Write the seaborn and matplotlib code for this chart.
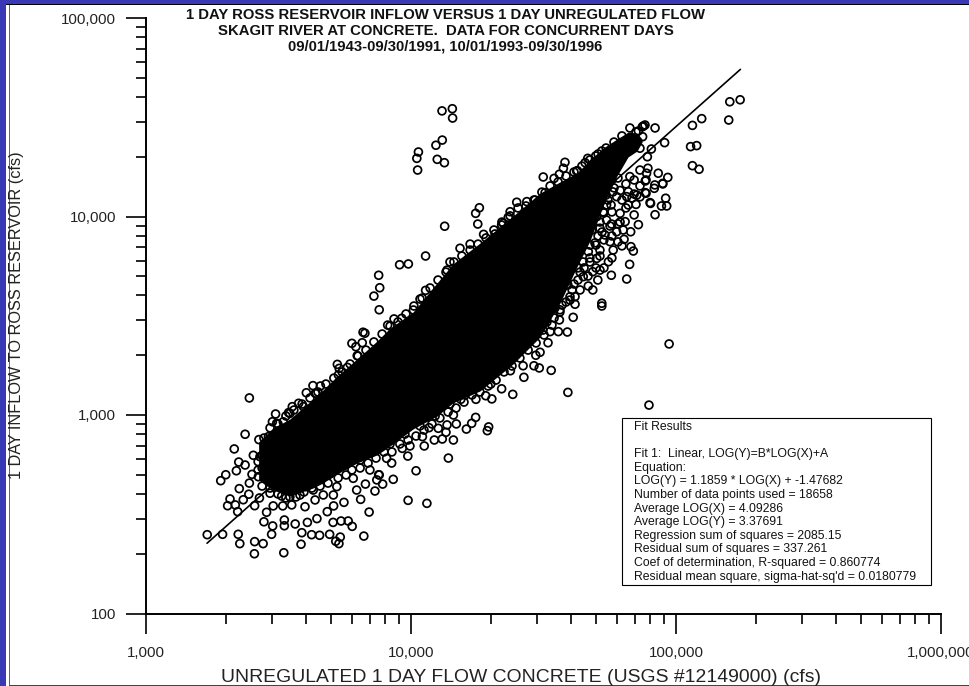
import matplotlib
matplotlib.use("Agg")
import matplotlib.pyplot as plt
import numpy as np
import pandas as pd
import seaborn as sns
from matplotlib.patches import Rectangle
from matplotlib.ticker import LogLocator, NullFormatter

# values, as log10(cfs)
TAIL_X = [3.231, 3.289, 3.348, 3.354, 3.410, 3.442, 3.409, 3.520, 3.585, 3.474, 3.588, 3.625, 3.655, 3.693, 3.733, 3.716,
          3.728, 3.822, 3.842, 3.778, 3.763, 3.736, 3.706, 3.645, 3.684, 3.708, 3.747, 3.864, 3.893, 3.810, 3.828, 3.878,
          3.609, 3.522, 3.522, 3.478, 3.445, 3.455, 3.480, 3.516, 3.563, 3.550, 3.600, 3.638, 3.410, 3.346, 3.308, 3.317,
          3.337, 3.367, 3.352, 3.388, 3.428, 3.282, 3.301, 3.341, 3.350, 3.333, 3.374, 3.390, 3.426, 3.405, 3.374, 3.390,
          3.400, 3.423, 3.477, 3.489, 3.538, 3.576, 3.605, 3.630, 3.658, 3.639, 3.552, 3.594, 3.518, 3.462, 3.468, 3.512,
          3.543, 3.581, 3.631, 3.669, 3.707, 3.720, 3.782, 3.795, 3.845, 3.871, 3.449, 3.424, 3.430, 3.449, 3.493, 3.543,
          3.606, 3.438, 3.423, 3.438]
TAIL_Y = [2.397, 2.399, 2.399, 2.352, 2.362, 2.352, 2.301, 2.306, 2.349, 2.399, 2.407, 2.397, 2.394, 2.399, 2.385, 2.364,
          2.352, 2.390, 2.511, 2.439, 2.466, 2.466, 2.459, 2.478, 2.513, 2.542, 2.560, 2.617, 2.652, 2.575, 2.652, 2.699,
          2.459, 2.442, 2.471, 2.441, 2.462, 2.510, 2.542, 2.542, 2.451, 2.547, 2.538, 2.572, 2.543, 2.513, 2.543, 2.577,
          2.547, 2.573, 2.629, 2.601, 2.582, 2.669, 2.699, 2.719, 2.763, 2.829, 2.903, 3.086, 2.876, 2.797, 2.748, 2.657,
          2.701, 2.765, 2.966, 3.005, 3.012, 3.059, 3.112, 3.148, 3.146, 3.109, 3.042, 3.042, 2.966, 2.891, 2.606, 2.592,
          2.588, 2.597, 2.622, 2.597, 2.597, 2.639, 2.681, 2.622, 2.723, 2.673, 2.689, 2.689, 2.790, 2.840, 2.958, 3.008,
          2.639, 2.797, 2.723, 2.733]

LOWER_X = [4.529, 4.592, 4.517, 4.487, 4.471, 4.484, 4.464, 4.423, 4.426, 4.375, 4.384, 4.342, 4.305, 4.320, 4.301, 4.282,
           4.245, 4.188, 4.171, 4.244, 4.229, 4.209, 4.293, 4.288, 4.160, 4.141, 4.019, 3.933, 3.989, 4.060, 3.880, 3.927,
           3.988, 4.050, 4.088, 4.118, 4.132, 4.136, 4.103, 4.068, 4.043, 3.996, 3.967, 3.908, 4.160, 4.084, 4.556, 4.386,
           4.898, 4.974]
LOWER_Y = [3.225, 3.114, 3.364, 3.316, 3.301, 3.237, 3.248, 3.248, 3.190, 3.223, 3.104, 3.132, 3.081, 3.237, 3.156, 3.097,
           3.079, 3.079, 2.955, 2.988, 2.958, 2.929, 2.940, 2.921, 2.874, 2.783, 2.719, 2.676, 2.570, 2.555, 2.698, 2.758,
           2.793, 2.844, 2.874, 2.879, 2.913, 2.950, 2.933, 2.936, 2.891, 2.844, 2.832, 2.782, 3.000, 3.009, 3.420, 3.287,
           3.050, 3.358]

RIGHT_X = [4.814, 4.756, 4.825, 4.720, 4.720, 4.612, 4.619, 4.590, 4.560, 4.525, 4.686, 4.705, 4.669, 4.713, 4.686, 4.839,
           4.830, 4.858, 4.921, 4.965, 4.945, 4.961, 4.904, 4.884, 4.918, 4.950, 4.884, 4.849, 4.808, 4.829, 4.804, 4.763,
           4.745, 4.757, 4.776, 4.738, 4.789, 4.814, 4.820, 4.776, 4.738, 4.713, 4.701, 4.669, 4.751, 4.801, 4.852, 4.713,
           4.701, 4.657, 4.675, 4.650, 4.619, 5.242, 5.203, 5.199, 5.097, 5.062, 5.055, 5.078, 5.062, 5.087, 4.957, 4.921,
           4.877, 4.883, 4.873, 4.858, 4.874, 4.907, 4.892, 4.864, 4.826, 4.894, 4.889, 4.887, 4.933, 4.969, 4.950, 4.920,
           4.887, 4.902, 4.820, 4.789, 4.834, 4.762, 4.796, 4.755, 4.864, 4.842, 4.781, 4.758, 4.725, 4.732, 4.694, 4.796,
           4.713, 4.649, 4.638, 4.600, 4.562, 4.513]
RIGHT_Y = [3.685, 3.704, 3.759, 3.563, 3.549, 3.492, 3.558, 3.418, 3.479, 3.420, 3.630, 3.680, 3.650, 3.730, 3.722, 3.826,
           3.848, 3.959, 4.009, 4.053, 4.053, 4.092, 4.066, 4.120, 4.142, 4.164, 4.179, 4.061, 3.974, 3.923, 3.885, 3.831,
           3.772, 3.962, 3.923, 3.982, 4.016, 4.100, 4.058, 4.100, 4.058, 3.941, 3.789, 3.823, 3.873, 3.932, 4.108, 4.083,
           3.999, 3.898, 3.974, 3.697, 3.596, 4.588, 4.578, 4.486, 4.493, 4.459, 4.352, 4.357, 4.256, 4.238, 4.372, 4.446,
           4.456, 4.461, 4.452, 4.431, 4.402, 4.340, 4.301, 4.344, 4.201, 4.243, 4.218, 4.184, 4.218, 4.197, 4.167, 4.159,
           4.117, 4.070, 4.125, 4.131, 4.093, 4.124, 4.083, 4.058, 4.099, 4.008, 3.963, 4.023, 4.023, 3.907, 3.867, 3.852,
           3.831, 3.771, 3.630, 3.596, 3.530, 3.469]

UPPER_X = [4.055, 3.990, 3.957, 3.878, 3.882, 3.860, 3.880, 4.055, 4.034, 4.009, 3.936, 3.912, 3.965, 3.819, 3.826, 3.777,
           3.816, 3.792, 3.797, 3.722, 3.729, 3.760, 3.726, 3.642, 4.156, 4.117, 4.157, 4.118, 4.094, 4.028, 4.022, 4.025,
           4.099, 4.126, 4.581, 4.575, 4.560, 4.540, 4.499, 4.625, 4.399, 4.437, 4.374, 4.367, 4.258, 4.244, 4.252, 4.274,
           4.127, 4.223, 4.185, 4.317, 4.342, 4.506, 4.468, 4.348, 4.657, 4.667, 4.628, 4.720, 4.697, 4.147, 4.136]
UPPER_Y = [3.801, 3.761, 3.757, 3.704, 3.641, 3.599, 3.530, 3.628, 3.584, 3.529, 3.484, 3.453, 3.487, 3.417, 3.412, 3.361,
           3.364, 3.344, 3.299, 3.255, 3.235, 3.240, 3.202, 3.109, 4.543, 4.532, 4.496, 4.385, 4.359, 4.325, 4.293, 4.234,
           4.288, 4.271, 4.273, 4.243, 4.213, 4.192, 4.199, 4.229, 4.072, 4.075, 4.024, 3.996, 4.044, 4.016, 3.962, 3.910,
           3.951, 3.861, 3.840, 3.912, 3.957, 4.120, 4.083, 3.966, 4.271, 4.293, 4.231, 4.330, 4.305, 3.771, 3.730]

# points crowded along the edges of the core
LOW_EDGE_X = [3.438, 3.468, 3.498, 3.528, 3.566, 3.596, 3.626, 3.657, 3.687, 3.725, 3.755, 3.777, 3.808, 3.838, 3.868, 3.898,
              3.928, 3.958, 3.989, 4.019, 4.049, 4.079, 4.109, 4.140, 4.170, 4.200, 4.230, 4.260, 4.291, 4.321, 4.351, 4.381,
              4.411, 4.442, 4.472, 4.502, 4.532, 4.562, 4.585, 4.608, 4.630, 4.653, 4.675, 4.698, 4.721,
              3.460, 3.525, 3.581, 3.638, 3.694, 3.751, 3.808, 3.864, 3.921, 3.977, 4.034, 4.091, 4.147, 4.204, 4.260, 4.317,
              4.374, 4.430, 4.487, 4.543, 4.592, 4.630, 4.675, 4.713, 4.743, 4.766]
LOW_EDGE_Y = [2.642, 2.632, 2.602, 2.582, 2.587, 2.612, 2.632, 2.642, 2.657, 2.683, 2.698, 2.723, 2.733, 2.758, 2.783, 2.814,
              2.814, 2.854, 2.874, 2.894, 2.924, 2.955, 2.985, 3.015, 3.035, 3.065, 3.101, 3.116, 3.146, 3.176, 3.217, 3.247,
              3.287, 3.327, 3.363, 3.403, 3.453, 3.519, 3.569, 3.630, 3.680, 3.741, 3.791, 3.856, 3.922,
              2.673, 2.622, 2.637, 2.673, 2.703, 2.748, 2.773, 2.824, 2.854, 2.904, 2.945, 2.995, 3.055, 3.101, 3.156, 3.217,
              3.277, 3.358, 3.438, 3.539, 3.655, 3.741, 3.856, 3.972, 4.083, 4.144]

DENSE_X = [4.713, 4.736, 4.758, 4.781, 4.864, 4.842, 4.864, 4.811, 4.728, 4.751, 4.728, 4.706, 4.683, 4.758, 4.781, 4.789,
           4.811, 4.842, 4.758, 4.728, 4.698, 4.668, 4.638, 4.615, 4.675, 4.713, 4.600, 4.570, 4.540, 4.498]
DENSE_Y = [4.134, 4.108, 4.184, 4.194, 4.234, 4.184, 4.154, 4.164, 4.018, 3.952, 3.882, 3.902, 3.932, 3.902, 3.872, 3.972,
           4.043, 4.113, 3.791, 3.741, 3.741, 3.700, 3.720, 3.660, 3.771, 3.801, 3.579, 3.554, 3.489, 3.428]

TOP_EDGE_X = [3.445, 3.468, 3.498, 3.528, 3.558, 3.589, 3.619, 3.649, 3.679, 3.709, 3.740, 3.770, 3.800, 3.830, 3.860, 3.891,
              3.921, 3.951, 3.981, 4.011, 4.042, 4.072, 4.102, 4.132, 4.162, 4.192, 4.223, 4.253, 4.283, 4.313, 4.343, 4.374,
              4.404, 4.434, 4.464, 4.494, 4.525, 4.555, 4.585, 4.615, 4.645, 4.675, 4.706, 4.736, 4.766, 4.796, 4.826, 4.849]
TOP_EDGE_Y = [2.884, 2.935, 2.955, 2.995, 3.025, 3.055, 3.086, 3.116, 3.156, 3.186, 3.217, 3.257, 3.297, 3.327, 3.368, 3.408,
              3.448, 3.469, 3.509, 3.549, 3.589, 3.640, 3.680, 3.720, 3.771, 3.801, 3.831, 3.861, 3.892, 3.932, 3.972, 4.003,
              4.043, 4.053, 4.083, 4.123, 4.154, 4.174, 4.204, 4.224, 4.254, 4.285, 4.315, 4.345, 4.375, 4.406, 4.446, 4.426]

# outline of the solid black core of the cloud
CORE_X = [3.425, 3.479, 3.543, 3.630, 3.668, 3.721, 3.796, 3.872, 3.921, 4.008, 4.098, 4.158, 4.260, 4.385, 4.487, 4.562,
          4.626, 4.675, 4.725, 4.777, 4.819, 4.853, 4.872]
CORE_TOP = [2.864, 2.934, 2.980, 3.080, 3.126, 3.196, 3.282, 3.373, 3.438, 3.519, 3.665, 3.761, 3.866, 4.002, 4.118, 4.174,
            4.219, 4.285, 4.345, 4.390, 4.425, 4.420, 4.390]
CORE_BOTTOM = [2.673, 2.622, 2.592, 2.632, 2.658, 2.703, 2.758, 2.799, 2.844, 2.930, 2.995, 3.061, 3.121, 3.257, 3.393, 3.564,
               3.746, 3.877, 4.053, 4.204, 4.300, 4.330, 4.375]

FIT_X = [1700, 175000]
FIT_Y = [226, 55100]

X_TICKS = [1000, 10000, 100000, 1000000]
X_TICK_LABELS = ["1,000", "10,000", "100,000", "1,000,000"]
Y_TICKS = [100, 1000, 10000, 100000]
Y_TICK_LABELS = ["100", "1,000", "10,000", "100,000"]

TITLE_LINES = [
    "1 DAY ROSS RESERVOIR INFLOW VERSUS 1 DAY UNREGULATED FLOW",
    "SKAGIT RIVER AT CONCRETE.  DATA FOR CONCURRENT DAYS",
    "09/01/1943-09/30/1991, 10/01/1993-09/30/1996",
]
FIT_LINES = [
    "Fit Results",
    "",
    "Fit 1:  Linear, LOG(Y)=B*LOG(X)+A",
    "Equation:",
    "LOG(Y) = 1.1859 * LOG(X) + -1.47682",
    "Number of data points used = 18658",
    "Average LOG(X) = 4.09286",
    "Average LOG(Y) = 3.37691",
    "Regression sum of squares = 2085.15",
    "Residual sum of squares = 337.261",
    "Coef of determination, R-squared = 0.860774",
    "Residual mean square, sigma-hat-sq'd = 0.0180779",
]

W, H = 970, 686

sns.set_theme(style="ticks")
plt.rcParams["font.family"] = "Liberation Sans"

points = pd.DataFrame({
    "x": 10 ** np.array(TAIL_X + LOWER_X + RIGHT_X + UPPER_X + LOW_EDGE_X + DENSE_X + TOP_EDGE_X),
    "y": 10 ** np.array(TAIL_Y + LOWER_Y + RIGHT_Y + UPPER_Y + LOW_EDGE_Y + DENSE_Y + TOP_EDGE_Y),
})

fig = plt.figure(figsize=(W / 100, H / 100), dpi=100, facecolor="white")
ax = fig.add_axes([146 / W, 1 - 613.5 / H, 795 / W, 595.5 / H])
ax.set_xscale("log")
ax.set_yscale("log")
ax.set_xlim(1e3, 1e6)
ax.set_ylim(1e2, 1e5)

sns.lineplot(x=FIT_X, y=FIT_Y, color="black", linewidth=1.2, ax=ax, zorder=2)
ax.fill_between(10 ** np.array(CORE_X), 10 ** np.array(CORE_BOTTOM), 10 ** np.array(CORE_TOP),
                color="black", linewidth=0, zorder=3)
sns.scatterplot(data=points, x="x", y="y", marker="o", s=32, facecolor="none", edgecolor="black",
                linewidth=1.25, ax=ax, zorder=4)

sns.despine(ax=ax)
for side in ["left", "bottom"]:
    ax.spines[side].set_linewidth(1.4)
    ax.spines[side].set_color("black")

ax.set_xticks(X_TICKS)
ax.set_xticklabels(X_TICK_LABELS)
ax.set_yticks(Y_TICKS)
ax.set_yticklabels(Y_TICK_LABELS)
for axis in [ax.xaxis, ax.yaxis]:
    axis.set_minor_locator(LogLocator(base=10, subs=range(2, 10), numticks=12))
    axis.set_minor_formatter(NullFormatter())
ax.tick_params(which="major", length=14.5, width=1.2, color="black", labelsize=10.8, labelcolor="#222222")
ax.tick_params(which="minor", length=7.2, width=1.2, color="black")
ax.tick_params(axis="x", which="major", pad=9)
ax.tick_params(axis="y", which="major", pad=7)
ax.set_xlabel("")
ax.set_ylabel("")
ax.patch.set_alpha(0)

fig.text(445.5 / W, 1 - 8 / H, "\n".join(TITLE_LINES), ha="center", va="top", fontsize=10.7,
         fontweight="bold", color="#111111", linespacing=1.17)
fig.text(521 / W, 1 - 678 / H, "UNREGULATED 1 DAY FLOW CONCRETE (USGS #12149000) (cfs)", ha="center", va="center",
         fontsize=13.95, color="#222222")
fig.text(16.5 / W, 1 - 315.5 / H, "1 DAY INFLOW TO ROSS RESERVOIR (cfs)", ha="center", va="center", rotation=90,
         fontsize=11.7, color="#222222")

# fit results box
fig.add_artist(Rectangle((621.7 / W, 1 - 585 / H), 309 / W, 166.7 / H, transform=fig.transFigure,
                         facecolor="white", edgecolor="black", linewidth=0.8))
for i, line in enumerate(FIT_LINES):
    fig.text(634 / W, 1 - (427 + 13.6 * i) / H, line, ha="left", va="center", fontsize=8.8, color="#111111")

# slide frame around the plot
fig.add_artist(Rectangle((0, 0), 6 / W, 1, transform=fig.transFigure, facecolor="#3939B6", linewidth=0))
fig.add_artist(Rectangle((0, 1 - 4 / H), 1, 4 / H, transform=fig.transFigure, facecolor="#3939B6", linewidth=0))
fig.add_artist(Rectangle((6 / W, 1 - 5 / H), 1, 1 / H, transform=fig.transFigure, facecolor="black", linewidth=0))
fig.add_artist(Rectangle((9 / W, 0), 1 / W, 1 - 5 / H, transform=fig.transFigure, facecolor="#666666", linewidth=0))
fig.add_artist(Rectangle((9 / W, 0), 1, 1 / H, transform=fig.transFigure, facecolor="#444444", linewidth=0))

fig.savefig("out.png", dpi=100)
